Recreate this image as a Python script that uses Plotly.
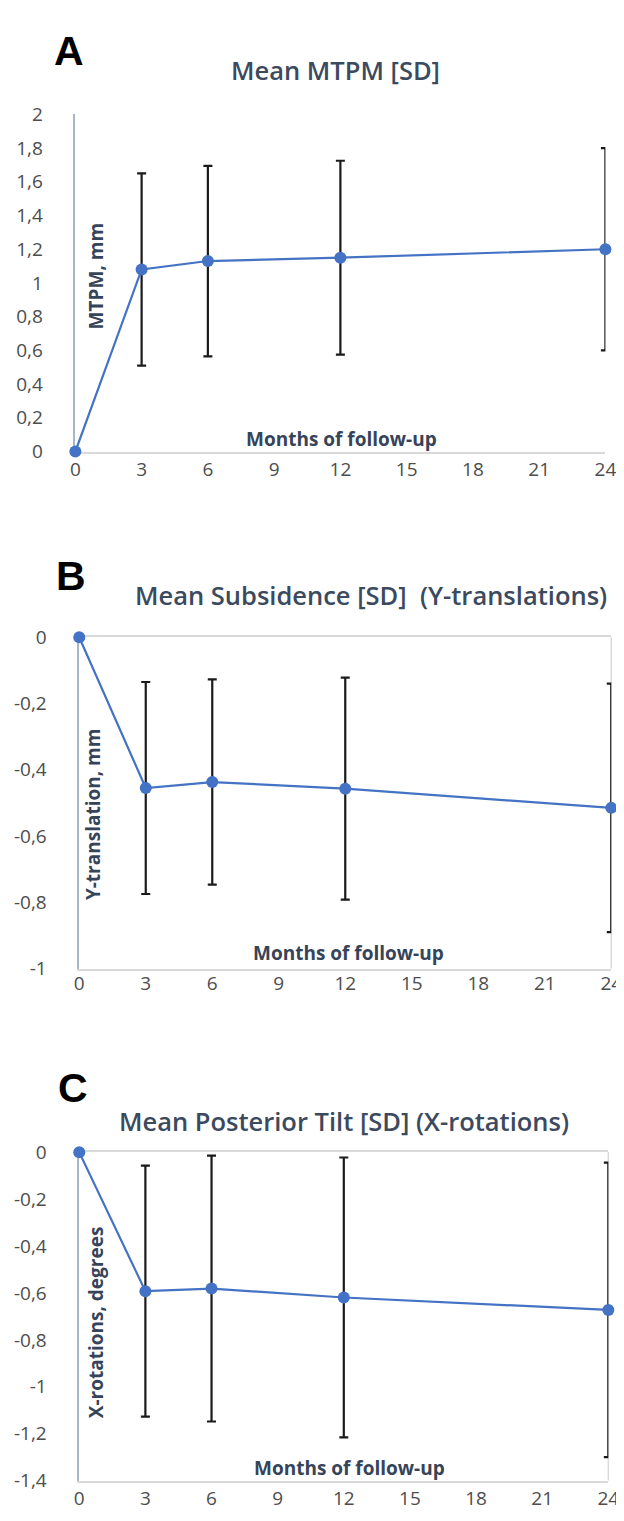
import plotly.graph_objects as go

months = [0, 3, 6, 12, 24]
x_ticks = [0, 3, 6, 9, 12, 15, 18, 21, 24]

mtpm_mean = [0, 1.08, 1.13, 1.15, 1.20]
mtpm_sd = [None, 0.57, 0.565, 0.575, 0.60]

ytrans_mean = [0, -0.455, -0.437, -0.457, -0.515]
ytrans_sd = [None, 0.32, 0.31, 0.335, 0.375]

xrot_mean = [0, -0.592, -0.581, -0.619, -0.672]
xrot_sd = [None, 0.535, 0.567, 0.597, 0.628]

titles = ["Mean MTPM [SD]", "Mean Subsidence [SD]  (Y-translations)", "Mean Posterior Tilt [SD] (X-rotations)"]
panel_letters = ["A", "B", "C"]
y_titles = ["MTPM, mm", "Y-translation, mm", "X-rotations, degrees"]
x_title = "Months of follow-up"

y_ticks_a = [0, 0.2, 0.4, 0.6, 0.8, 1, 1.2, 1.4, 1.6, 1.8, 2]
y_ticks_b = [0, -0.2, -0.4, -0.6, -0.8, -1]
y_ticks_c = [0, -0.2, -0.4, -0.6, -0.8, -1, -1.2, -1.4]


def fmt(v):
    return ("%g" % v).replace(".", ",")

W, H = 624, 1521
BLUE = "#4472C4"
TITLE_C = "#3B4A5E"
AXT_C = "#364459"
TICK_C = "#4D4D4D"
FONT = "Open Sans"

series = [(mtpm_mean, mtpm_sd), (ytrans_mean, ytrans_sd), (xrot_mean, xrot_sd)]
# pixel layout of plot areas (left, right, top, bottom)
areas = [(64, 608, 95, 438), (68, 614, 627, 964), (68, 611, 1151, 1485)]
yranges = [[0, 2], [-1, 0], [-1.4, 0]]
yticks = [y_ticks_a, y_ticks_b, y_ticks_c]
xstand = [0, -3, 0]

fig = go.Figure()
for i, (m, sd) in enumerate(series):
    sfx = "" if i == 0 else str(i + 1)
    fig.add_trace(go.Scatter(
        x=months, y=m, xaxis="x" + sfx, yaxis="y" + sfx,
        mode="lines+markers",
        line=dict(color=BLUE, width=2.2),
        marker=dict(color=BLUE, size=12),
        error_y=dict(type="data", array=sd, visible=True, color="#1a1a1a", thickness=2.2, width=4.5),
        cliponaxis=False, showlegend=False,
    ))

layout = dict(width=W, height=H, margin=dict(l=0, r=0, t=0, b=0),
              paper_bgcolor="white", plot_bgcolor="white",
              font=dict(family=FONT, color=TICK_C), showlegend=False)
annotations = []
shapes = []

title_pos = [(331, 50), (367, 584), (340, 1119)]
letter_pos = [(57, 31), (60, 565), (62, 1086)]
ytitle_pos = [(85, 260), (82, 807), (86, 1324)]
xtitle_pos = [(337, 425), (344, 948), (345, 1472)]

for i in range(3):
    sfx = "" if i == 0 else str(i + 1)
    l, r, t, b = areas[i]
    xa = dict(domain=[l / W, r / W], range=[0, 24], tickvals=x_ticks,
              ticktext=[str(v) for v in x_ticks], showgrid=False, zeroline=False,
              showline=True, linecolor="#D9D9D9", linewidth=1.5, layer="below traces",
              ticks="", ticklabelstandoff=xstand[i], tickfont=dict(size=19, color=TICK_C),
              anchor="y" + sfx, fixedrange=True)
    ya = dict(domain=[1 - b / H, 1 - t / H], range=yranges[i], tickvals=yticks[i],
              ticktext=[fmt(v) for v in yticks[i]], showgrid=False, zeroline=False,
              showline=True, linecolor="#A9B6C8", linewidth=1.5, layer="below traces",
              ticks="", ticklabelstandoff=27, tickfont=dict(size=19, color=TICK_C),
              anchor="x" + sfx, fixedrange=True)
    if i > 0:
        xa["mirror"] = True
        shapes.append(dict(type="line", xref="x" + sfx + " domain", yref="y" + sfx + " domain",
                           x0=1, x1=1, y0=0, y1=1, layer="below",
                           line=dict(color="#D9D9D9", width=1.5)))
    layout["xaxis" + sfx] = xa
    layout["yaxis" + sfx] = ya

    tx, ty = title_pos[i]
    annotations.append(dict(text=titles[i], x=tx / W, y=1 - ty / H, xref="paper", yref="paper",
                            showarrow=False, xanchor="center", yanchor="middle",
                            font=dict(size=25.5, color=TITLE_C, family=FONT, weight=600)))
    lx, ly = letter_pos[i]
    annotations.append(dict(text="<b>" + panel_letters[i] + "</b>", x=lx / W, y=1 - ly / H,
                            xref="paper", yref="paper", showarrow=False,
                            xanchor="center", yanchor="middle",
                            font=dict(size=41, color="black", family="Liberation Sans")))
    yx, yy = ytitle_pos[i]
    annotations.append(dict(text="<b>" + y_titles[i] + "</b>", x=yx / W, y=1 - yy / H,
                            xref="paper", yref="paper", showarrow=False, textangle=-90,
                            xanchor="center", yanchor="middle",
                            font=dict(size=19, color=AXT_C, family=FONT)))
    xx, xy = xtitle_pos[i]
    annotations.append(dict(text="<b>" + x_title + "</b>", x=xx / W, y=1 - xy / H,
                            xref="paper", yref="paper", showarrow=False,
                            xanchor="center", yanchor="middle",
                            font=dict(size=19, color=AXT_C, family=FONT)))

layout["annotations"] = annotations
layout["shapes"] = shapes
fig.update_layout(**layout)
fig.write_html("out.html")
